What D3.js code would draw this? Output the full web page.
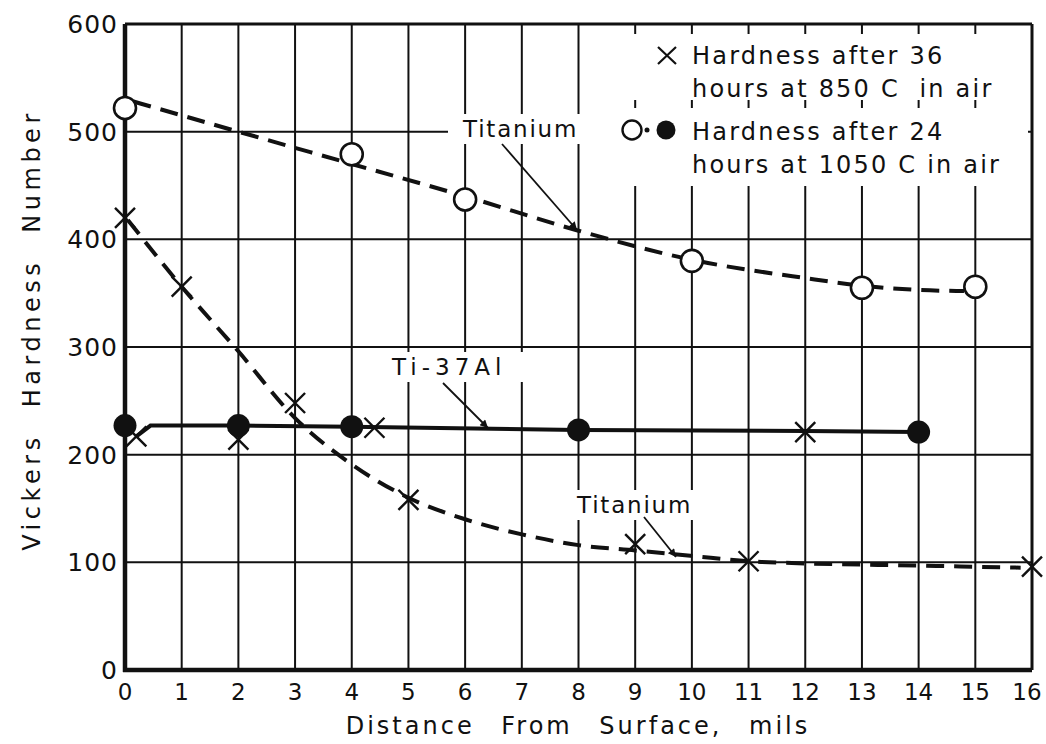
<!DOCTYPE html>
<html>
<head>
<meta charset="utf-8">
<script src="https://cdn.jsdelivr.net/npm/d3@7"></script>
<style>
  body { margin: 0; background: #fff; }
  text { font-family: "DejaVu Sans", sans-serif; fill: #111; }
</style>
</head>
<body>
<svg id="chart" width="1046" height="744"></svg>
<script>
// tick values
var xTicks = d3.range(0, 17);
var yTicks = [0, 100, 200, 300, 400, 500, 600];

// Titanium, 24 h at 1050 C (open circles)
var ti1050 = [[0, 522], [4, 479], [6, 437], [10, 380], [13, 355], [15, 356]];
// faired dashed curve through them
var ti1050Curve = [[0.15, 528], [2, 500], [4, 470], [6, 440], [8, 408], [10, 381], [12, 364], [13, 357], [14, 353], [14.8, 352]];

// Titanium, 36 h at 850 C (crosses)
var ti850 = [[0, 420], [1, 356], [3, 248], [5, 158], [9, 117], [11, 101], [16, 96]];
var ti850Curve = [[0.05, 418], [1, 356], [2, 296], [3, 234], [4, 191], [5, 160], [6, 140], [7, 126], [8, 116], [9, 111], [10, 106], [11, 101], [12, 99], [14, 97], [15.8, 95]];

// Ti-37Al, 24 h at 1050 C (filled) and 36 h at 850 C (crosses)
var al1050 = [[0, 227], [2, 227], [4, 226], [8, 223], [14, 221]];
var al850 = [[0.2, 217], [2, 214], [4.4, 225], [12, 221]];
var alLine = [[0.2, 217], [0.45, 227], [2, 227], [4, 226], [8, 223], [12, 222], [14, 221]];

var svg = d3.select("#chart");
var x = d3.scaleLinear().domain([0, 16]).range([125, 1032]);
var y = d3.scaleLinear().domain([0, 600]).range([670, 24]);

var line = d3.line()
  .x(function(d) { return x(d[0]); })
  .y(function(d) { return y(d[1]); });

// grid
var grid = svg.append("g");
grid.selectAll(".vg").data(xTicks).enter().append("line")
  .attr("x1", function(d) { return x(d); }).attr("x2", function(d) { return x(d); })
  .attr("y1", y(0)).attr("y2", y(600))
  .attr("stroke", "#111").attr("stroke-width", 2);
grid.selectAll(".hg").data(yTicks).enter().append("line")
  .attr("x1", x(0)).attr("x2", x(16))
  .attr("y1", function(d) { return y(d); }).attr("y2", function(d) { return y(d); })
  .attr("stroke", "#111").attr("stroke-width", 2);

// heavy left and bottom axes
svg.append("line").attr("x1", x(0)).attr("x2", x(0)).attr("y1", y(600)).attr("y2", y(0) + 2)
  .attr("stroke", "#111").attr("stroke-width", 4.5);
svg.append("line").attr("x1", x(0) - 2).attr("x2", x(16)).attr("y1", y(0)).attr("y2", y(0))
  .attr("stroke", "#111").attr("stroke-width", 4.5);
svg.append("line").attr("x1", x(16)).attr("x2", x(16)).attr("y1", y(600)).attr("y2", y(0))
  .attr("stroke", "#111").attr("stroke-width", 3);
svg.append("line").attr("x1", x(0)).attr("x2", x(16)).attr("y1", y(600)).attr("y2", y(600))
  .attr("stroke", "#111").attr("stroke-width", 3);

// white patches where the legend and labels sit over the grid
var patches = [[586, 34, 442, 66], [586, 108, 442, 78], [448, 114, 138, 30], [388, 352, 136, 30], [572, 490, 126, 30]];
svg.selectAll(".patch").data(patches).enter().append("rect")
  .attr("x", function(d) { return d[0]; }).attr("y", function(d) { return d[1]; })
  .attr("width", function(d) { return d[2]; }).attr("height", function(d) { return d[3]; })
  .attr("fill", "#fff");

// tick labels
svg.selectAll(".yl").data(yTicks).enter().append("text")
  .attr("x", 118).attr("y", function(d) { return y(d) + 9; })
  .attr("text-anchor", "end").style("font-size", "25px").style("letter-spacing", "1px")
  .text(function(d) { return d; });
svg.selectAll(".xl").data(xTicks).enter().append("text")
  .attr("x", function(d) { return d === 16 ? x(d) - 5 : x(d); }).attr("y", 700)
  .attr("text-anchor", "middle").style("font-size", "23px")
  .text(function(d) { return d; });

// axis titles
svg.append("text").attr("x", 578).attr("y", 734).attr("text-anchor", "middle")
  .style("font-size", "24px").style("letter-spacing", "3px").style("word-spacing", "16px")
  .text("Distance From Surface, mils");
svg.append("text").attr("transform", "translate(40,330) rotate(-90)").attr("text-anchor", "middle")
  .style("font-size", "24px").style("letter-spacing", "4.5px").style("word-spacing", "14px")
  .text("Vickers Hardness Number");

// dashed curves
svg.append("path").datum(ti1050Curve).attr("d", line.curve(d3.curveMonotoneX))
  .attr("fill", "none").attr("stroke", "#111").attr("stroke-width", 4).attr("stroke-dasharray", "18,10");
svg.append("path").datum(ti850Curve).attr("d", line.curve(d3.curveMonotoneX))
  .attr("fill", "none").attr("stroke", "#111").attr("stroke-width", 4).attr("stroke-dasharray", "18,10");
// Ti-37Al solid line
svg.append("path").datum(alLine).attr("d", line.curve(d3.curveLinear))
  .attr("fill", "none").attr("stroke", "#111").attr("stroke-width", 4);

function cross(g, data) {
  var s = 10;
  var m = g.selectAll(null).data(data).enter().append("path")
    .attr("d", function(d) {
      var cx = x(d[0]), cy = y(d[1]);
      return "M" + (cx - s) + "," + (cy - s) + "L" + (cx + s) + "," + (cy + s) +
             "M" + (cx - s) + "," + (cy + s) + "L" + (cx + s) + "," + (cy - s);
    })
    .attr("stroke", "#111").attr("stroke-width", 2.4).attr("fill", "none");
  return m;
}

var marks = svg.append("g");
cross(marks, ti850);
cross(marks, al850);
marks.selectAll(".oc").data(ti1050).enter().append("circle")
  .attr("cx", function(d) { return x(d[0]); }).attr("cy", function(d) { return y(d[1]); })
  .attr("r", 11).attr("fill", "#fff").attr("stroke", "#111").attr("stroke-width", 2.6);
marks.selectAll(".fc").data(al1050).enter().append("circle")
  .attr("cx", function(d) { return x(d[0]); }).attr("cy", function(d) { return y(d[1]); })
  .attr("r", 11.5).attr("fill", "#111");

// annotations with arrows
svg.append("defs").append("marker").attr("id", "arr")
  .attr("viewBox", "0 0 10 10").attr("refX", 10).attr("refY", 5)
  .attr("markerWidth", 18).attr("markerHeight", 8).attr("markerUnits", "userSpaceOnUse")
  .attr("orient", "auto")
  .append("path").attr("d", "M0,0L10,5L0,10z").attr("fill", "#111");

var notes = [
  { t: "Titanium", tx: 463, ty: 137, ls: 1.8, from: [502, 144], to: [577, 230] },
  { t: "Ti-37Al", tx: 392, ty: 375, ls: 5, from: [443, 383], to: [488, 428] },
  { t: "Titanium", tx: 577, ty: 513, ls: 1.8, from: [644, 517], to: [676, 557] }
];
notes.forEach(function(n) {
  svg.append("text").attr("x", n.tx).attr("y", n.ty).style("font-size", "23px")
    .style("letter-spacing", n.ls + "px").text(n.t);
  svg.append("line").attr("x1", n.from[0]).attr("y1", n.from[1])
    .attr("x2", n.to[0]).attr("y2", n.to[1])
    .attr("stroke", "#111").attr("stroke-width", 1.8).attr("marker-end", "url(#arr)");
});

// legend
var leg = svg.append("g");
leg.append("path").attr("d", "M658,47L676,64M658,64L676,47")
  .attr("stroke", "#111").attr("stroke-width", 2.2).attr("fill", "none");
leg.append("circle").attr("cx", 632).attr("cy", 130).attr("r", 9.5)
  .attr("fill", "#fff").attr("stroke", "#111").attr("stroke-width", 2.4);
leg.append("circle").attr("cx", 647).attr("cy", 130).attr("r", 2.5).attr("fill", "#111");
leg.append("circle").attr("cx", 666).attr("cy", 130).attr("r", 9.5).attr("fill", "#111");
var legLines = [
  ["Hardness after 36", 64],
  ["hours at 850 C  in air", 97],
  ["Hardness after 24", 140],
  ["hours at 1050 C in air", 173]
];
leg.selectAll(".lt").data(legLines).enter().append("text")
  .attr("x", 692).attr("y", function(d) { return d[1]; })
  .style("font-size", "24px").style("letter-spacing", "2.2px").style("white-space", "pre")
  .text(function(d) { return d[0]; });
</script>
</body>
</html>
